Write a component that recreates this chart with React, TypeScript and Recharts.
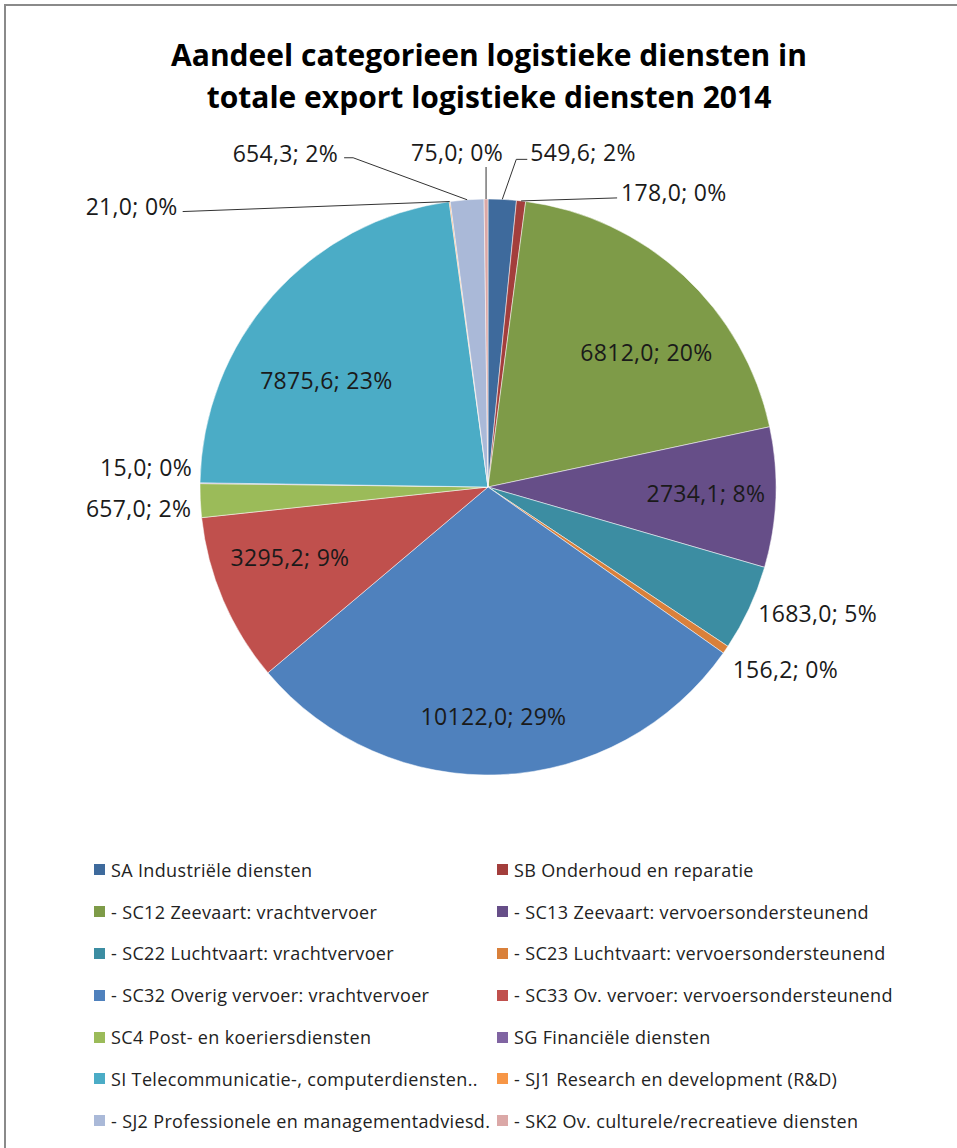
import React from "react";
import { PieChart, Pie, Cell, Legend } from "recharts";

const categories = [
  "SA Industriële diensten",
  "SB Onderhoud en reparatie",
  "- SC12 Zeevaart: vrachtvervoer",
  "- SC13 Zeevaart: vervoersondersteunend",
  "- SC22 Luchtvaart: vrachtvervoer",
  "- SC23 Luchtvaart: vervoersondersteunend",
  "- SC32 Overig vervoer: vrachtvervoer",
  "- SC33 Ov. vervoer: vervoersondersteunend",
  "SC4 Post- en koeriersdiensten",
  "SG Financiële diensten",
  "SI Telecommunicatie-, computerdiensten..",
  "- SJ1 Research en development (R&D)",
  "- SJ2 Professionele en managementadviesd.",
  "- SK2 Ov. culturele/recreatieve diensten",
];

// export in mln euro, 2014
const exportValues = [549.6, 178.0, 6812.0, 2734.1, 1683.0, 156.2, 10122.0, 3295.2, 657.0, 15.0, 7875.6, 21.0, 654.3, 75.0];

// percentages as printed on the labels
const shareLabels = [2, 0, 20, 8, 5, 0, 29, 9, 2, 0, 23, 0, 2, 0];

const colors = [
  "#3e6a9c", "#a33e3c", "#7e9b48", "#664e88", "#3c8da2", "#d9803a", "#4f81bd",
  "#c0504d", "#9bbb59", "#8064a2", "#4bacc6", "#f79646", "#aab9d8", "#dba8a7",
];

const data = categories.map((name, i) => ({ name, value: exportValues[i] }));

const FONT = "'Open Sans', Lato, sans-serif";
const RAD = Math.PI / 180;

// label placement: inside labels sit on a polar spot, outside ones are offset from the rim
type Spot =
  | { mode: "in"; r: number; da: number }
  | { mode: "out"; dx: number; dy: number; anchor: "start" | "middle" | "end"; leader?: number[][] };

const spots: Spot[] = [
  { mode: "out", dx: 28, dy: -47, anchor: "start", leader: [[-14, 7], [-3, 7]] },
  { mode: "out", dx: 100, dy: -9, anchor: "start", leader: [[-4, 6]] },
  { mode: "in", r: 208, da: 6.9 },
  { mode: "in", r: 218, da: -0.5 },
  { mode: "out", dx: 9, dy: 5, anchor: "start" },
  { mode: "out", dx: 7, dy: 19, anchor: "start" },
  { mode: "in", r: 229, da: 1.1 },
  { mode: "in", r: 210, da: 3.7 },
  { mode: "out", dx: -9, dy: 7, anchor: "end" },
  { mode: "out", dx: -8, dy: -16, anchor: "end" },
  { mode: "in", r: 194, da: -8 },
  { mode: "out", dx: -272, dy: 4, anchor: "end", leader: [[5, 6]] },
  { mode: "out", dx: -129, dy: -47, anchor: "end", leader: [[15, 5], [6, 5]] },
  { mode: "out", dx: -29, dy: -47, anchor: "middle", leader: [[29, 15]] },
];

const fmt = (v: number) => v.toFixed(1).replace(".", ",");

const labelText = { fill: "#1a1a1a", fontSize: 23, fontFamily: FONT, letterSpacing: 0.3 };

const renderLabel = (props: any) => {
  const { cx, cy, midAngle, outerRadius, index, value } = props;
  const spot = spots[index];
  const text = `${fmt(value)}; ${shareLabels[index]}%`;
  if (spot.mode === "in") {
    const a = (midAngle - spot.da) * RAD;
    const x = cx + spot.r * Math.cos(-a);
    const y = cy + spot.r * Math.sin(-a);
    return (
      <text key={`l${index}`} x={x} y={y} textAnchor="middle" dominantBaseline="central" {...labelText}>
        {text}
      </text>
    );
  }
  const rx = cx + outerRadius * Math.cos(-midAngle * RAD);
  const ry = cy + outerRadius * Math.sin(-midAngle * RAD);
  const lx = rx + spot.dx;
  const ly = ry + spot.dy;
  const pts = spot.leader ? [[rx, ry], ...spot.leader.map(([px, py]) => [lx + px, ly + py])] : null;
  return (
    <g key={`l${index}`}>
      {pts && <polyline points={pts.map((p) => p.join(",")).join(" ")} fill="none" stroke="#333" strokeWidth={1} />}
      <text x={lx} y={ly} textAnchor={spot.anchor} dominantBaseline="central" {...labelText}>
        {text}
      </text>
    </g>
  );
};

const renderLegend = () => (
  <div style={{ display: "grid", gridTemplateColumns: "403px 460px", paddingLeft: 94 }}>
    {data.map((d, i) => (
      <div key={d.name} style={{ display: "flex", alignItems: "center", height: 41.8, fontFamily: FONT, fontSize: 18, letterSpacing: 0.35, color: "#222", whiteSpace: "nowrap" }}>
        <span style={{ display: "inline-block", width: 11, height: 11, background: colors[i], marginRight: 6, flex: "none" }} />
        {d.name}
      </div>
    ))}
  </div>
);

export default function App() {
  return (
    <div style={{ position: "absolute", left: 0, top: 0, width: 957, height: 1148, overflow: "hidden", background: "#fff" }}>
      <div style={{ position: "absolute", left: 4, top: 4, width: 980, height: 1170, border: "2px solid #8a8a8a", boxSizing: "border-box" }} />
      <div style={{ position: "absolute", left: 0, top: 34, width: 978, textAlign: "center", fontFamily: FONT, fontWeight: 700, fontSize: 30, lineHeight: "42px", color: "#000" }}>
        Aandeel categorieen logistieke diensten in
        <br />
        totale export logistieke diensten 2014
      </div>
      <PieChart width={957} height={1148} margin={{ top: 0, right: 0, bottom: 0, left: 0 }}>
        <Pie
          data={data}
          dataKey="value"
          nameKey="name"
          cx={488}
          cy={487}
          outerRadius={288}
          startAngle={90}
          endAngle={-270}
          stroke="#ffffff"
          strokeWidth={0.5}
          label={renderLabel}
          labelLine={false}
          isAnimationActive={false}
        >
          {data.map((d, i) => (
            <Cell key={d.name} fill={colors[i]} />
          ))}
        </Pie>
        <Legend verticalAlign="bottom" content={renderLegend} wrapperStyle={{ position: "absolute", left: 0, top: 849, bottom: "auto", width: 957 }} />
      </PieChart>
    </div>
  );
}
